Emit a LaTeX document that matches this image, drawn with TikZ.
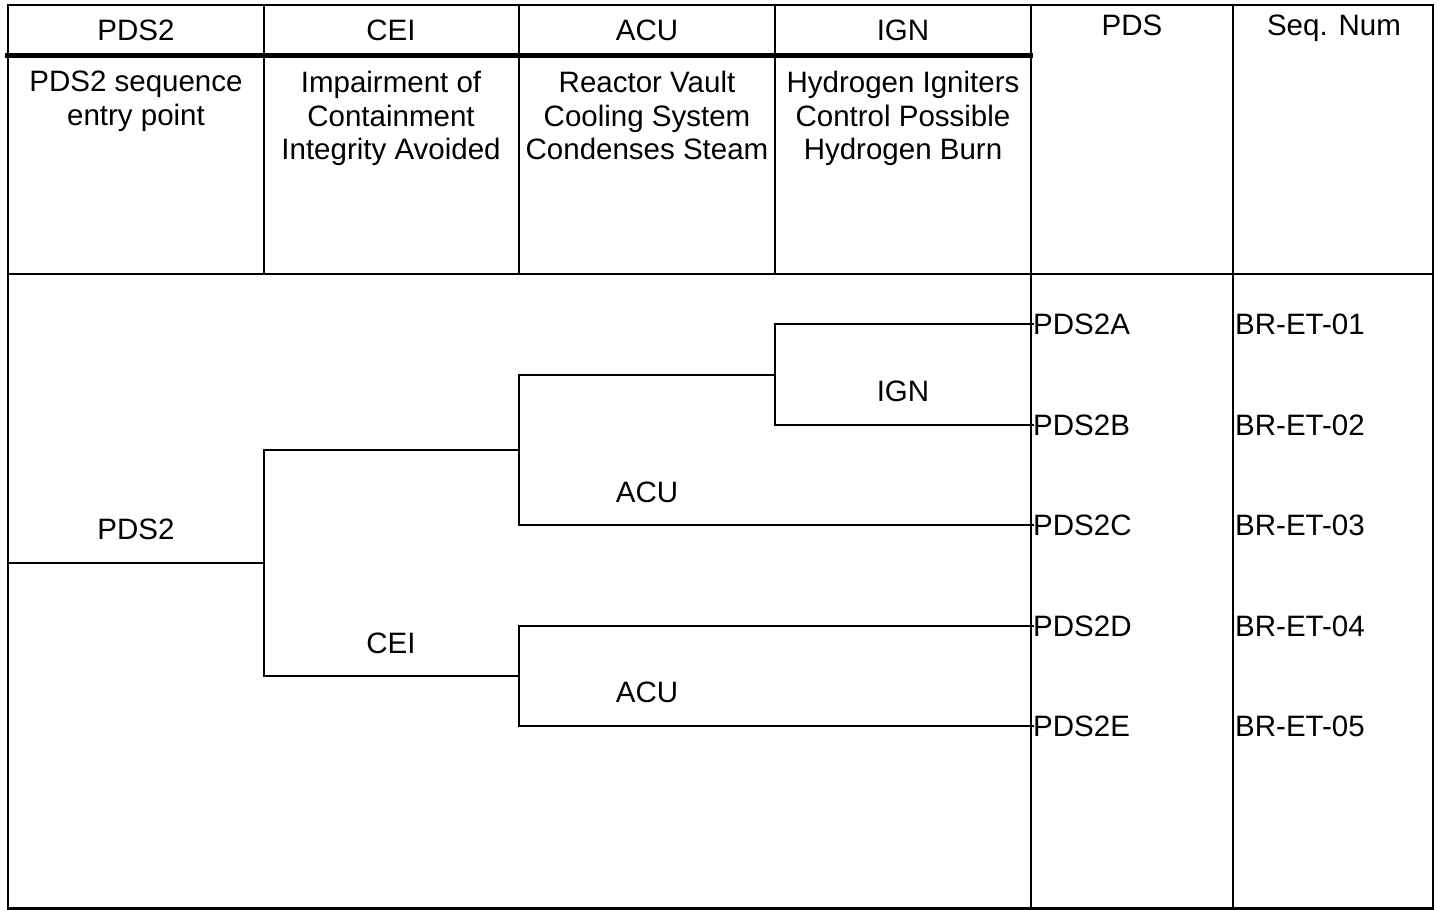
\documentclass[tikz,border=0pt]{standalone}
\usepackage{fontspec}
\setmainfont{Liberation Sans}
\begin{document}
\begin{tikzpicture}[x=1pt,y=-1pt,
  lbl/.style={font=\fontsize{29.5}{33.5}\selectfont, inner sep=0pt, text=black},
  hdr/.style={lbl, anchor=base},
  desc/.style={lbl, anchor=north, align=center},
  endlbl/.style={lbl, anchor=base west},
  gridline/.style={line width=2.2pt, black, line cap=rect},
  headrule/.style={line width=5pt, black},
  branch/.style={line width=2pt, black, line cap=rect}]

\useasboundingbox (0,0) rectangle (1441,910);

% table frame
\draw[gridline] (8,5) rectangle (1433,908.5);
\draw[gridline] (264,5) -- (264,274);
\draw[gridline] (519,5) -- (519,274);
\draw[gridline] (775,5) -- (775,274);
\draw[gridline] (1031,5) -- (1031,908.5);
\draw[gridline] (1233,5) -- (1233,908.5);
\draw[gridline] (8,274) -- (1433,274);
\draw[headrule] (5,55) -- (1033,55);

% headers
\node[hdr] (hPDS2) at (136,40.4) {PDS2};
\node[hdr] (hCEI) at (391,40.4) {CEI};
\node[hdr] (hACU) at (647,40.4) {ACU};
\node[hdr] (hIGN) at (903,40.4) {IGN};
\node[hdr] (hPDS) at (1132,35.5) {PDS};
\node[hdr] (hSeq) at (1334,35.5) {Seq. Num};

% descriptions
\node[desc] (dPDS2) at (136,71) {PDS2 sequence\\entry point};
\node[desc] (dCEI) at (391,71) {Impairment of\\Containment\\Integrity Avoided};
\node[desc] (dACU) at (647,71) {Reactor Vault\\Cooling System\\Condenses Steam};
\node[desc] (dIGN) at (903,71) {Hydrogen Igniters\\Control Possible\\Hydrogen Burn};

% end states
\node[endlbl] (eA) at (1033,334.4) {PDS2A};
\node[endlbl] (eB) at (1033,435.4) {PDS2B};
\node[endlbl] (eC) at (1033,535.4) {PDS2C};
\node[endlbl] (eD) at (1033,636.4) {PDS2D};
\node[endlbl] (eE) at (1033,736.4) {PDS2E};
\node[endlbl] (sA) at (1235,334.4) {BR-ET-01};
\node[endlbl] (sB) at (1235,435.4) {BR-ET-02};
\node[endlbl] (sC) at (1235,535.4) {BR-ET-03};
\node[endlbl] (sD) at (1235,636.4) {BR-ET-04};
\node[endlbl] (sE) at (1235,736.4) {BR-ET-05};

% branch labels
\node[hdr] (lPDS2) at (136,539.5) {PDS2};
\node[hdr] (lIGN) at (903,401.5) {IGN};
\node[hdr] (lACU1) at (647,502.5) {ACU};
\node[hdr] (lCEI) at (391,653.5) {CEI};
\node[hdr] (lACU2) at (647,702.5) {ACU};

% tree points
\coordinate (root) at (8,563);
\coordinate (p1) at (264,563);
\coordinate (p1u) at (264,450);
\coordinate (p1d) at (264,676);
\coordinate (p2u) at (519,450);
\coordinate (p2uu) at (519,375);
\coordinate (p2ud) at (519,525);
\coordinate (p3) at (775,375);
\coordinate (p3u) at (775,324);
\coordinate (p3d) at (775,425);
\coordinate (p2d) at (519,676);
\coordinate (p2du) at (519,626);
\coordinate (p2dd) at (519,726);

\draw[branch] (root) -- (p1);
\draw[branch] (p1u) -- (p1d);
\draw[branch] (p1u) -- (p2u);
\draw[branch] (p2uu) -- (p2ud);
\draw[branch] (p2uu) -- (p3);
\draw[branch] (p3u) -- (p3d);
\draw[branch] (p3u) -- (p3u -| eA.west);
\draw[branch] (p3d) -- (p3d -| eB.west);
\draw[branch] (p2ud) -- (p2ud -| eC.west);
\draw[branch] (p1d) -- (p2d);
\draw[branch] (p2du) -- (p2dd);
\draw[branch] (p2du) -- (p2du -| eD.west);
\draw[branch] (p2dd) -- (p2dd -| eE.west);
\end{tikzpicture}
\end{document}
